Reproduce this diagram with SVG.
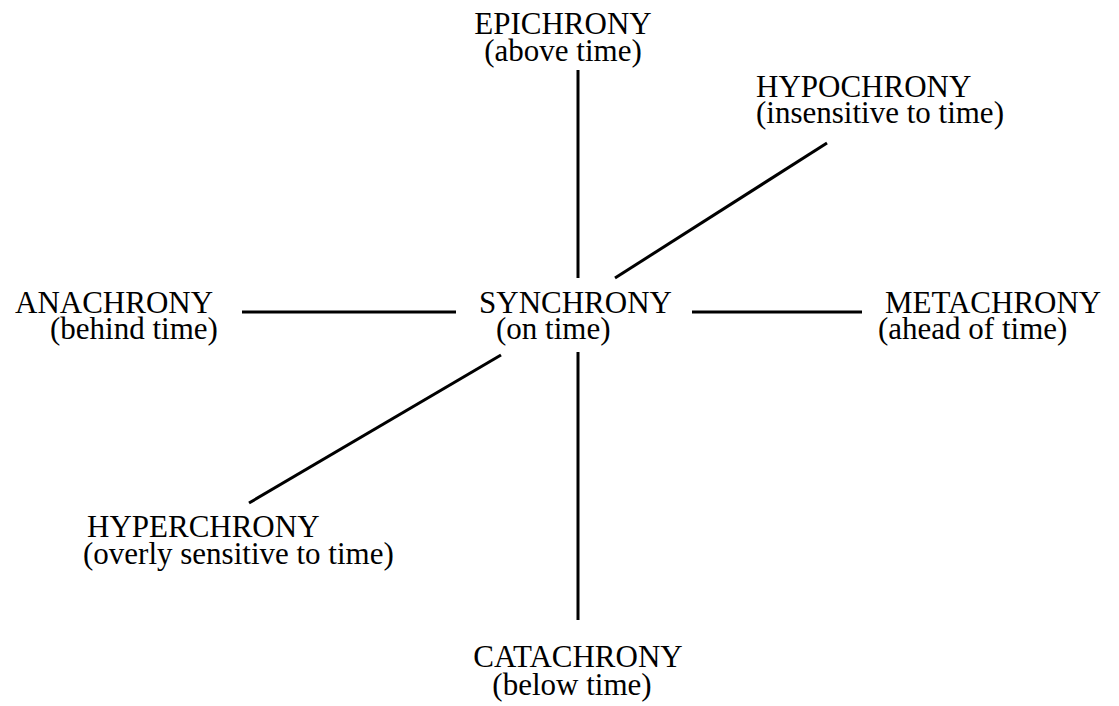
<svg xmlns="http://www.w3.org/2000/svg" width="1119" height="706" viewBox="0 0 1119 706">
<style>
text{font-family:"Liberation Serif","Times New Roman",serif;font-size:31px;fill:#000}
.l{stroke:#000;stroke-width:3;fill:none;stroke-linecap:butt}
</style>
<rect width="1119" height="706" fill="#fff"/>
<g id="connectors">
<line class="l" x1="578" y1="70" x2="578" y2="278"/>
<line class="l" x1="578" y1="352" x2="578" y2="620"/>
<line class="l" x1="242" y1="312" x2="456" y2="312"/>
<line class="l" x1="692" y1="312" x2="862" y2="312"/>
<line class="l" x1="615" y1="278" x2="827" y2="143"/>
<line class="l" x1="501" y1="355" x2="249" y2="503"/>
</g>
<g id="epichrony"><text x="563" y="34" text-anchor="middle">EPICHRONY</text><text x="563" y="61" text-anchor="middle">(above time)</text></g>
<g id="hypochrony"><text x="756" y="97">HYPOCHRONY</text><text x="756" y="123">(insensitive to time)</text></g>
<g id="anachrony"><text x="15" y="313">ANACHRONY</text><text x="50" y="339">(behind time)</text></g>
<g id="synchrony"><text x="479" y="313">SYNCHRONY</text><text x="496" y="339">(on time)</text></g>
<g id="metachrony"><text x="885" y="313">METACHRONY</text><text x="878" y="339">(ahead of time)</text></g>
<g id="hyperchrony"><text x="87" y="537">HYPERCHRONY</text><text x="83" y="564">(overly sensitive to time)</text></g>
<g id="catachrony"><text x="578" y="667" text-anchor="middle">CATACHRONY</text><text x="572" y="695" text-anchor="middle">(below time)</text></g>
</svg>
